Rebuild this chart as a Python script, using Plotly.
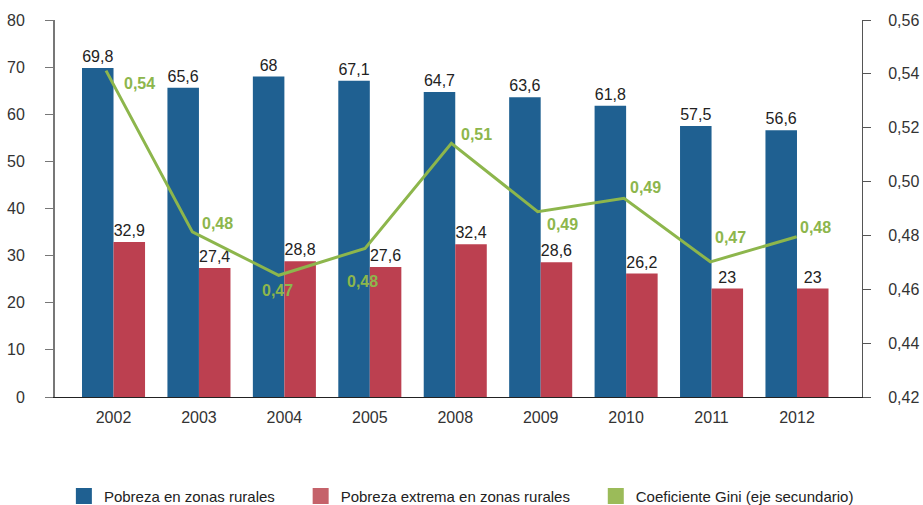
import plotly.graph_objects as go

years = ["2002", "2003", "2004", "2005", "2008", "2009", "2010", "2011", "2012"]
pobreza = [69.8, 65.6, 68, 67.1, 64.7, 63.6, 61.8, 57.5, 56.6]
pobreza_ext = [32.9, 27.4, 28.8, 27.6, 32.4, 28.6, 26.2, 23, 23]
gini = [0.5412, 0.4813, 0.4652, 0.4752, 0.5142, 0.4888, 0.4938, 0.4702, 0.4795]
left_ticks = [0, 10, 20, 30, 40, 50, 60, 70, 80]
right_ticks = [0.42, 0.44, 0.46, 0.48, 0.50, 0.52, 0.54, 0.56]

names = ["Pobreza en zonas rurales", "Pobreza extrema en zonas rurales",
         "Coeficiente Gini (eje secundario)"]

BLUE = "#1F6091"
RED = "#BC4050"
GREEN = "#8DB64C"
FONT = "Liberation Sans, Arial, sans-serif"

idx = list(range(len(years)))


def fmt(v, d=None):
    s = f"{v:.{d}f}" if d is not None else f"{v:g}"
    return s.replace(".", ",")


fig = go.Figure()
fig.add_trace(go.Bar(
    x=idx, y=pobreza, name=names[0], marker_color=BLUE, marker_line_width=0,
    text=[fmt(v) for v in pobreza], textposition="outside", cliponaxis=False,
    textfont=dict(family=FONT, size=16, color="#222222"), showlegend=False,
))
fig.add_trace(go.Bar(
    x=idx, y=pobreza_ext, name=names[1], marker_color=RED, marker_line_width=0,
    text=[fmt(v) for v in pobreza_ext], textposition="outside", cliponaxis=False,
    textfont=dict(family=FONT, size=16, color="#222222"), showlegend=False,
))
fig.add_trace(go.Scatter(
    x=idx, y=gini, name=names[2], mode="lines",
    line=dict(color=GREEN, width=3),
    xaxis="x2", yaxis="y2", showlegend=False, cliponaxis=False,
))

# Gini value labels (label offsets in px relative to each point: style only)
label_dx = [33, 25, -1, -3, 25, 25, 21, 20, 19]
label_dy = [-13, 8, -15, -33, 9, -13, 11, 24, 9]
for xi, g, dx, dy in zip(idx, gini, label_dx, label_dy):
    fig.add_annotation(
        x=xi, y=g, xref="x2", yref="y2", text=fmt(g, 2), showarrow=False,
        xshift=dx, yshift=dy,
        font=dict(family=FONT, size=16, color=GREEN, weight="bold"),
    )

# legend entries (square swatches); trailing no-break spaces widen the item gap
pads = ["\u00a0" * 5, "\u00a0" * 5, ""]
for nm, col, pd in zip(names, [BLUE, "#C5626A", "#9BBB59"], pads):
    fig.add_trace(go.Scatter(
        x=[None], y=[None], mode="markers", name=nm + pd,
        marker=dict(symbol="square", size=16, color=col, line_width=0),
        showlegend=True,
    ))

fig.update_layout(
    width=923, height=505,
    margin=dict(l=55, r=61, t=20, b=108, autoexpand=False),
    paper_bgcolor="white", plot_bgcolor="white",
    barmode="group", bargap=0.262, bargroupgap=0,
    separators=",.",
    font=dict(family=FONT, size=16, color="#333333"),
    showlegend=True,
    legend=dict(orientation="h", x=0.011, xanchor="left", y=-0.263, yanchor="middle",
                font=dict(family=FONT, size=15, color="#222222"),
                itemsizing="trace", traceorder="normal"),
    xaxis=dict(
        range=[-0.685, 8.761], tickmode="array", tickvals=idx, ticktext=years,
        showline=True, linecolor="#222222", linewidth=1, ticks="",
        showgrid=False, zeroline=False, ticklabelstandoff=6,
        tickfont=dict(family=FONT, size=16, color="#333333"),
    ),
    xaxis2=dict(range=[-0.591, 8.756], overlaying="x", visible=False),
    yaxis=dict(
        range=[0, 80], tickvals=left_ticks, showline=True, linecolor="#777777",
        linewidth=2, ticks="outside", ticklen=8, tickcolor="#777777", tickwidth=1,
        showgrid=False, zeroline=False, ticklabelstandoff=17,
        tickfont=dict(family=FONT, size=16, color="#333333"),
    ),
    yaxis2=dict(
        range=[0.42, 0.56], tickvals=right_ticks, tickformat=".2f",
        overlaying="y", side="right", showline=True, linecolor="#555555",
        linewidth=1, ticks="outside", ticklen=8, tickcolor="#555555",
        showgrid=False, zeroline=False, ticklabelstandoff=14,
        tickfont=dict(family=FONT, size=16, color="#333333"),
    ),
)

fig.write_html(
    "out.html",
    config={"displayModeBar": False},
    post_script="document.body.style.margin='0';document.body.style.overflow='hidden';",
)
